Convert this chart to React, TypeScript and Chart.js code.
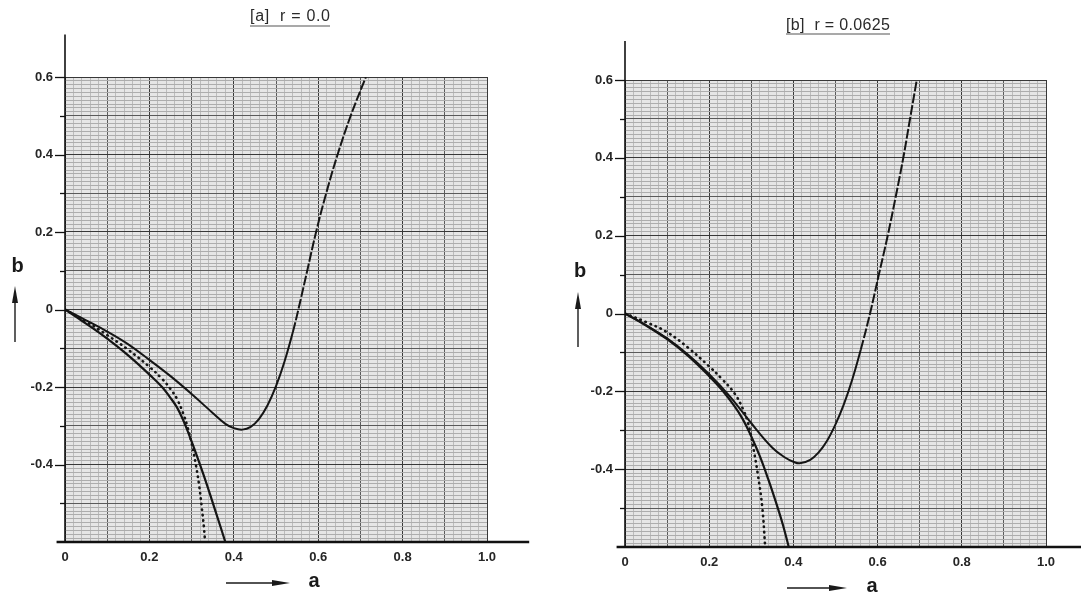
import React, { useEffect, useRef } from 'react';
import { Chart, registerables } from 'chart.js';

Chart.register(...registerables);

// ---------- tick labels ----------
const X_TICK_LABELS = ['0', '0.2', '0.4', '0.6', '0.8', '1.0'];
const Y_TICK_LABELS = ['-0.4', '-0.2', '0', '0.2', '0.4', '0.6'];
const Y_TICK_MARKS = [-0.5, -0.4, -0.3, -0.2, -0.1, 0, 0.1, 0.2, 0.3, 0.4, 0.5, 0.6];

// ---------- panel [a] r = 0.0 ----------
const A_UPPER_X = [0, 0.05, 0.1, 0.15, 0.2, 0.25, 0.3, 0.35, 0.38, 0.4, 0.42, 0.44, 0.46, 0.48, 0.5, 0.52, 0.54, 0.553, 0.574, 0.595, 0.619, 0.646, 0.677, 0.713];
const A_UPPER_Y = [0, -0.028, -0.057, -0.09, -0.13, -0.172, -0.218, -0.267, -0.295, -0.306, -0.31, -0.303, -0.282, -0.247, -0.198, -0.135, -0.058, 0, 0.1, 0.2, 0.3, 0.4, 0.5, 0.6];
const A_LOWER_X = [0, 0.04, 0.08, 0.12, 0.16, 0.2, 0.23, 0.25, 0.265, 0.28, 0.295, 0.31, 0.33, 0.355, 0.38];
const A_LOWER_Y = [0, -0.029, -0.059, -0.092, -0.128, -0.168, -0.2, -0.228, -0.252, -0.285, -0.326, -0.37, -0.432, -0.515, -0.6];
const A_DOTTED_X = [0, 0.05, 0.1, 0.15, 0.2, 0.23, 0.25, 0.265, 0.28, 0.29, 0.3, 0.31, 0.318, 0.324, 0.329, 0.332];
const A_DOTTED_Y = [0, -0.031, -0.066, -0.104, -0.148, -0.179, -0.205, -0.23, -0.268, -0.302, -0.345, -0.4, -0.455, -0.51, -0.56, -0.6];

// ---------- panel [b] r = 0.0625 ----------
const B_UPPER_X = [0, 0.05, 0.1, 0.15, 0.2, 0.25, 0.3, 0.35, 0.38, 0.4, 0.415, 0.44, 0.46, 0.48, 0.5, 0.52, 0.54, 0.56, 0.582, 0.603, 0.624, 0.643, 0.661, 0.677, 0.693];
const B_UPPER_Y = [0, -0.03, -0.064, -0.106, -0.156, -0.214, -0.282, -0.345, -0.37, -0.381, -0.385, -0.376, -0.357, -0.327, -0.285, -0.233, -0.169, -0.093, 0, 0.1, 0.2, 0.3, 0.4, 0.5, 0.6];
const B_LOWER_X = [0, 0.05, 0.1, 0.15, 0.2, 0.23, 0.26, 0.28, 0.3, 0.32, 0.34, 0.36, 0.375, 0.389];
const B_LOWER_Y = [0, -0.031, -0.066, -0.109, -0.161, -0.196, -0.238, -0.272, -0.316, -0.366, -0.425, -0.49, -0.543, -0.6];
const B_DOTTED_X = [0, 0.05, 0.1, 0.15, 0.2, 0.23, 0.26, 0.28, 0.292, 0.303, 0.315, 0.326, 0.333];
const B_DOTTED_Y = [0, -0.022, -0.048, -0.088, -0.136, -0.168, -0.205, -0.245, -0.28, -0.335, -0.41, -0.497, -0.6];

const FONT = "'Liberation Sans', Arial, Helvetica, sans-serif";

const toPoints = (xs: number[], ys: number[]) => xs.map((x, i) => ({ x, y: ys[i] }));
const near = (v: number, step: number) => Math.abs(v / step - Math.round(v / step)) < 1e-6;
const fmt = (v: number) => (Math.abs(v) < 1e-9 ? '0' : v.toFixed(1));

const paperPlugin = {
  id: 'paper',
  beforeDraw(chart: any) {
    const { ctx, chartArea } = chart;
    ctx.save();
    ctx.fillStyle = '#e6e6e6';
    ctx.fillRect(chartArea.left, chartArea.top, chartArea.right - chartArea.left, chartArea.bottom - chartArea.top);
    ctx.restore();
  },
  afterDraw(chart: any, _args: any, opts: any) {
    const { ctx } = chart;
    const xs = chart.scales.x;
    const ys = chart.scales.y;
    const x0 = xs.getPixelForValue(0);
    const yb = ys.getPixelForValue(-0.6);
    ctx.save();
    ctx.strokeStyle = '#111';
    ctx.lineCap = 'butt';
    // vertical axis
    ctx.lineWidth = 1.6;
    ctx.beginPath();
    ctx.moveTo(x0, yb);
    ctx.lineTo(x0, ys.getPixelForValue(opts.yTop));
    ctx.stroke();
    // horizontal axis
    ctx.lineWidth = 2.4;
    ctx.beginPath();
    ctx.moveTo(xs.getPixelForValue(opts.xStart), yb);
    ctx.lineTo(xs.getPixelForValue(opts.xEnd), yb);
    ctx.stroke();
    // y tick marks
    ctx.lineWidth = 1.3;
    for (const v of Y_TICK_MARKS) {
      const py = Math.round(ys.getPixelForValue(v)) + 0.5;
      const len = Y_TICK_LABELS.includes(fmt(v)) ? 10 : 5;
      ctx.beginPath();
      ctx.moveTo(x0 - len, py);
      ctx.lineTo(x0, py);
      ctx.stroke();
    }
    ctx.restore();
  },
};

const gridColor = (v: number | undefined, fine: string) => {
  if (v === undefined) return fine;
  if (near(v, 0.2)) return '#383838';
  if (near(v, 0.1)) return '#5a5a5a';
  return fine;
};

interface PanelCfg {
  upper: { x: number; y: number }[];
  lower: { x: number; y: number }[];
  dotted: { x: number; y: number }[];
  padding: { top: number; right: number; left: number; bottom: number };
  yWidth: number;
  xHeight: number;
  yTop: number;
  xStart: number;
  xEnd: number;
}

function makeChart(canvas: HTMLCanvasElement, cfg: PanelCfg) {
  return new Chart(canvas, {
    type: 'line',
    data: {
      datasets: [
        {
          data: cfg.upper,
          borderColor: '#151515',
          borderWidth: 2,
          pointRadius: 0,
          fill: false,
          tension: 0.4,
          segment: {
            borderDash: (ctx: any) => (ctx.p0.parsed.x > 0.45 && ctx.p0.parsed.y > -0.12 ? [10, 2] : undefined),
          },
        } as any,
        {
          data: cfg.lower,
          borderColor: '#151515',
          borderWidth: 2.2,
          pointRadius: 0,
          fill: false,
          tension: 0.4,
        },
        {
          data: cfg.dotted,
          borderColor: '#151515',
          borderWidth: 2.6,
          borderDash: [0.5, 5],
          borderCapStyle: 'round',
          pointRadius: 0,
          fill: false,
          tension: 0.4,
        },
      ],
    },
    options: {
      responsive: false,
      animation: false,
      devicePixelRatio: 1,
      events: [],
      layout: { padding: cfg.padding },
      plugins: {
        legend: { display: false },
        tooltip: { enabled: false },
        title: { display: false },
        paper: { yTop: cfg.yTop, xStart: cfg.xStart, xEnd: cfg.xEnd },
      } as any,
      scales: {
        x: {
          type: 'linear',
          min: 0,
          max: 1,
          border: { display: false },
          afterFit: (s: any) => {
            s.height = cfg.xHeight;
          },
          grid: {
            drawTicks: false,
            color: (c: any) => gridColor(c.tick?.value, '#bcbcbc'),
            lineWidth: 1,
          },
          ticks: {
            stepSize: 0.02,
            autoSkip: false,
            maxRotation: 0,
            minRotation: 0,
            padding: 8,
            color: '#262626',
            font: { family: FONT, size: 13, weight: 'bold' },
            callback: (v: any) => {
              const n = Number(v);
              return near(n, 0.1) && X_TICK_LABELS.includes(fmt(n)) ? fmt(n) : '';
            },
          },
        },
        y: {
          type: 'linear',
          min: -0.6,
          max: 0.6,
          border: { display: false },
          afterFit: (s: any) => {
            s.width = cfg.yWidth;
          },
          grid: {
            drawTicks: false,
            color: (c: any) => gridColor(c.tick?.value, '#adadad'),
            lineWidth: 1,
          },
          ticks: {
            stepSize: 0.01,
            autoSkip: false,
            padding: 12,
            color: '#262626',
            font: { family: FONT, size: 13, weight: 'bold' },
            callback: (v: any) => {
              const n = Number(v);
              return near(n, 0.1) && Y_TICK_LABELS.includes(fmt(n)) ? fmt(n) : '';
            },
          },
        },
      },
    },
    plugins: [paperPlugin as any],
  } as any);
}

const LEFT_CFG: PanelCfg = {
  upper: toPoints(A_UPPER_X, A_UPPER_Y),
  lower: toPoints(A_LOWER_X, A_LOWER_Y),
  dotted: toPoints(A_DOTTED_X, A_DOTTED_Y),
  padding: { top: 77, right: 53, left: 0, bottom: 0 },
  yWidth: 65,
  xHeight: 55,
  yTop: 0.71,
  xStart: -0.02,
  xEnd: 1.1,
};

const RIGHT_CFG: PanelCfg = {
  upper: toPoints(B_UPPER_X, B_UPPER_Y),
  lower: toPoints(B_LOWER_X, B_LOWER_Y),
  dotted: toPoints(B_DOTTED_X, B_DOTTED_Y),
  padding: { top: 80, right: 35, left: 0, bottom: 0 },
  yWidth: 85,
  xHeight: 50,
  yTop: 0.7,
  xStart: -0.02,
  xEnd: 1.1,
};

function Panel({ left, width, cfg }: { left: number; width: number; cfg: PanelCfg }) {
  const ref = useRef<HTMLCanvasElement | null>(null);
  useEffect(() => {
    if (!ref.current) return;
    const chart = makeChart(ref.current, cfg);
    return () => chart.destroy();
  }, [cfg]);
  return (
    <canvas
      ref={ref}
      width={width}
      height={597}
      style={{ position: 'absolute', left, top: 0, width, height: 597, display: 'block' }}
    />
  );
}

export default function App() {
  const txt = { fontFamily: FONT, fill: '#1a1a1a' } as React.CSSProperties;
  return (
    <div
      style={{
        position: 'fixed',
        left: 0,
        top: 0,
        width: 1081,
        height: 597,
        background: '#ffffff',
        overflow: 'hidden',
      }}
    >
      <Panel left={0} width={540} cfg={LEFT_CFG} />
      <Panel left={540} width={541} cfg={RIGHT_CFG} />
      <svg
        width={1081}
        height={597}
        style={{ position: 'absolute', left: 0, top: 0, pointerEvents: 'none' }}
      >
        {/* titles */}
        <text x={250} y={21} fontSize={16} textLength={80} lengthAdjust="spacing" style={{ ...txt, fill: '#2a2a2a', whiteSpace: 'pre' }}>
          {'[a]  r = 0.0'}
        </text>
        <line x1={250} y1={26} x2={330} y2={26} stroke="#555" strokeWidth={1.2} />
        <text x={786} y={30} fontSize={16} textLength={104} lengthAdjust="spacing" style={{ ...txt, fill: '#2a2a2a', whiteSpace: 'pre' }}>
          {'[b]  r = 0.0625'}
        </text>
        <line x1={786} y1={34} x2={890} y2={34} stroke="#555" strokeWidth={1.2} />

        {/* left panel axis names */}
        <text x={17.5} y={272} fontSize={20} fontWeight="bold" textAnchor="middle" style={txt}>b</text>
        <line x1={15} y1={342} x2={15} y2={300} stroke="#1a1a1a" strokeWidth={1.4} />
        <polygon points="15,286 12,303 18,303" fill="#1a1a1a" />
        <text x={314} y={587} fontSize={20} fontWeight="bold" textAnchor="middle" style={txt}>a</text>
        <line x1={226} y1={583} x2={276} y2={583} stroke="#1a1a1a" strokeWidth={1.4} />
        <polygon points="290,583 272,580 272,586" fill="#1a1a1a" />

        {/* right panel axis names */}
        <text x={580} y={277} fontSize={20} fontWeight="bold" textAnchor="middle" style={txt}>b</text>
        <line x1={578} y1={347} x2={578} y2={306} stroke="#1a1a1a" strokeWidth={1.4} />
        <polygon points="578,292 575,309 581,309" fill="#1a1a1a" />
        <text x={872} y={592} fontSize={20} fontWeight="bold" textAnchor="middle" style={txt}>a</text>
        <line x1={787} y1={588} x2={833} y2={588} stroke="#1a1a1a" strokeWidth={1.4} />
        <polygon points="847,588 829,585 829,591" fill="#1a1a1a" />
      </svg>
    </div>
  );
}
